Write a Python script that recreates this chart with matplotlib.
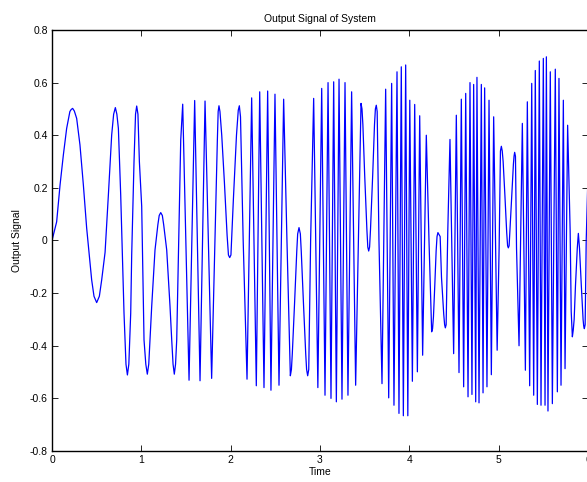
import matplotlib
matplotlib.use("Agg")
import matplotlib.pyplot as plt

# values (extrema plus points along the slower swings)
time = [
    # 0 - 1
    0.0, 0.052, 0.09, 0.127, 0.164, 0.2, 0.215, 0.231, 0.25, 0.276,
    0.313, 0.351, 0.388, 0.444, 0.47, 0.5, 0.53, 0.556, 0.594, 0.631,
    0.668, 0.69, 0.709, 0.726, 0.743, 0.769, 0.788, 0.806, 0.828, 0.844,
    0.86, 0.881, 0.892, 0.918, 0.935, 0.948, 0.962, 0.978,
    # 1 - 2
    1.004, 1.03, 1.05, 1.067, 1.083, 1.097, 1.116, 1.153, 1.185, 1.2,
    1.217, 1.235, 1.25, 1.284, 1.321, 1.34, 1.355, 1.369, 1.383, 1.396,
    1.441, 1.463, 1.534, 1.597, 1.657, 1.713, 1.787, 1.851, 1.86, 1.869,
    1.88, 1.90, 1.93, 1.96, 1.975, 1.989,
    # 2 - 3
    2.003, 2.03, 2.065, 2.085, 2.097, 2.11, 2.14, 2.183, 2.235, 2.287,
    2.325, 2.373, 2.414, 2.451, 2.496, 2.541, 2.593, 2.63, 2.668, 2.68,
    2.69, 2.715, 2.74, 2.75, 2.765, 2.78, 2.79, 2.815, 2.84, 2.85,
    2.862, 2.874, 2.895, 2.929, 2.976,
    # 3 - 4
    3.019, 3.056, 3.09, 3.123, 3.153, 3.183, 3.213, 3.246, 3.28, 3.313,
    3.354, 3.399, 3.43, 3.459, 3.47, 3.48, 3.50, 3.525, 3.535, 3.545,
    3.555, 3.565, 3.59, 3.61, 3.62, 3.63, 3.64, 3.66, 3.694, 3.735,
    3.769, 3.802, 3.828, 3.862, 3.884, 3.91, 3.933, 3.959, 3.983,
    # 4 - 5
    4.005, 4.034, 4.06, 4.09, 4.116, 4.149, 4.19, 4.22, 4.25, 4.26,
    4.27, 4.285, 4.30, 4.31, 4.32, 4.345, 4.36, 4.385, 4.395, 4.403,
    4.412, 4.43, 4.455, 4.496, 4.526, 4.556, 4.582, 4.608, 4.631, 4.657,
    4.679, 4.701, 4.72, 4.743, 4.757, 4.78, 4.806, 4.825, 4.843, 4.869,
    4.892, 4.918, 4.944, 4.983,
    # 5 - 6
    5.005, 5.02, 5.03, 5.04, 5.05, 5.07, 5.09, 5.10, 5.108, 5.117,
    5.125, 5.145, 5.165, 5.172, 5.179, 5.188, 5.20, 5.228, 5.265, 5.299,
    5.321, 5.347, 5.37, 5.392, 5.41, 5.433, 5.455, 5.474, 5.5, 5.519,
    5.534, 5.552, 5.578, 5.601, 5.634, 5.657, 5.675, 5.698, 5.724, 5.743,
    5.772, 5.80, 5.812, 5.825, 5.835, 5.845, 5.86, 5.88, 5.892, 5.905,
    5.925, 5.945, 5.952, 5.959, 5.968, 5.98, 6.0,
]
output = [
    # 0 - 1
    0.0, 0.071, 0.211, 0.325, 0.426, 0.49, 0.498, 0.502, 0.492, 0.464,
    0.363, 0.211, 0.047, -0.15, -0.212, -0.236, -0.212, -0.15, -0.045, 0.173,
    0.401, 0.48, 0.505, 0.48, 0.426, 0.173, -0.055, -0.276, -0.47, -0.511,
    -0.47, -0.276, -0.055, 0.3, 0.48, 0.511, 0.48, 0.3,
    # 1 - 2
    0.13, -0.378, -0.47, -0.508, -0.47, -0.378, -0.25, -0.036, 0.06, 0.095,
    0.106, 0.095, 0.06, -0.036, -0.25, -0.378, -0.47, -0.508, -0.47, -0.378,
    0.382, 0.518, -0.531, 0.532, -0.533, 0.53, -0.524, 0.382, 0.49, 0.512,
    0.49, 0.40, 0.22, 0.02, -0.055, -0.065,
    # 2 - 3
    -0.055, 0.154, 0.40, 0.495, 0.512, 0.47, 0.0, -0.527, 0.542, -0.552,
    0.565, -0.559, 0.568, -0.569, 0.556, -0.55, 0.537, 0.0, -0.514, -0.49,
    -0.43, -0.24, -0.04, 0.025, 0.049, 0.025, -0.04, -0.24, -0.43, -0.49,
    -0.514, -0.49, 0.0, 0.54, -0.559,
    # 3 - 4
    0.578, -0.588, 0.60, -0.60, 0.603, -0.613, 0.613, -0.603, 0.60, -0.588,
    0.565, -0.55, 0.0, 0.521, 0.50, 0.44, 0.25, 0.04, -0.025, -0.04,
    -0.025, 0.04, 0.25, 0.44, 0.50, 0.514, 0.49, 0.0, -0.544, 0.575,
    -0.598, 0.597, -0.626, 0.641, -0.657, 0.66, -0.666, 0.667, -0.666,
    # 4 - 5
    0.533, -0.535, 0.517, -0.499, 0.474, -0.436, 0.40, 0.0, -0.347, -0.335,
    -0.29, -0.17, -0.04, 0.015, 0.03, 0.015, -0.14, -0.28, -0.32, -0.332,
    -0.32, 0.03, 0.384, -0.43, 0.476, -0.502, 0.537, -0.556, 0.559, -0.594,
    0.60, -0.585, 0.593, -0.613, 0.62, -0.617, 0.593, -0.579, 0.58, -0.556,
    0.533, -0.51, 0.47, -0.417,
    # 5 - 6
    -0.03, 0.34, 0.358, 0.34, 0.30, 0.17, 0.03, -0.02, -0.028, -0.02,
    0.03, 0.16, 0.29, 0.32, 0.335, 0.32, -0.03, -0.40, 0.445, -0.493,
    0.527, -0.552, 0.597, -0.588, 0.646, -0.623, 0.682, -0.626, 0.692, -0.626,
    0.698, -0.648, 0.641, -0.62, 0.651, -0.575, 0.616, -0.55, 0.533, -0.487,
    0.438, 0.04, -0.27, -0.366, -0.34, -0.30, -0.17, -0.03, 0.027, -0.03,
    -0.17, -0.30, -0.325, -0.335, -0.32, 0.0, 0.25,
]
x_ticks = [0, 1, 2, 3, 4, 5, 6]
y_ticks = [-0.8, -0.6, -0.4, -0.2, 0, 0.2, 0.4, 0.6, 0.8]
y_tick_labels = ['-0.8', '-0.6', '-0.4', '-0.2', '0', '0.2', '0.4', '0.6', '0.8']

plt.rcParams['font.family'] = ['Liberation Sans', 'DejaVu Sans']
plt.rcParams['font.size'] = 7.5

fig = plt.figure(figsize=(5.87, 4.82), dpi=100)
# the reference is cropped: the right spine sits just past the image edge
ax = fig.add_axes([0.0886, 0.0643, 0.9131, 0.8735])

ax.plot(time, output, color='#0000ff', linewidth=0.9)

ax.set_xlim(0, 6)
ax.set_ylim(-0.8, 0.8)
ax.set_xticks(x_ticks)
ax.set_xticklabels([str(t) for t in x_ticks])
ax.set_yticks(y_ticks)
ax.set_yticklabels(y_tick_labels)
ax.tick_params(direction='in', length=4, width=0.6, top=True, right=True, pad=3)
for s in ax.spines.values():
    s.set_linewidth(1.0)

ax.set_title('Output Signal of System', fontsize=7.5, pad=6)
ax.set_xlabel('Time', fontsize=7.5, labelpad=1)
ax.set_ylabel('Output Signal', fontsize=7.5, labelpad=6)

fig.savefig('out.png', dpi=100)
